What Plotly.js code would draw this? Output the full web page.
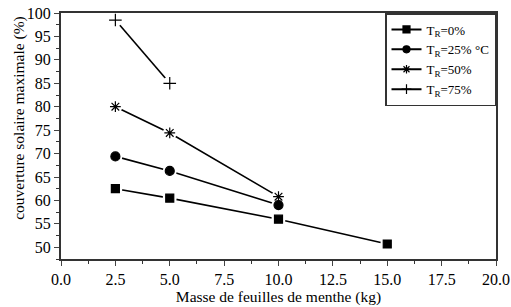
<!DOCTYPE html>
<html><head><meta charset="utf-8">
<script src="https://cdn.plot.ly/plotly-3.0.1.min.js"></script>
<style>html,body{margin:0;padding:0;background:#fff}#chart{width:511px;height:307px}</style>
</head><body><div id="chart"></div>
<script>
const seriesNames = ['T<sub>R</sub>=0%', 'T<sub>R</sub>=25% °C', 'T<sub>R</sub>=50%', 'T<sub>R</sub>=75%'];
const x0 = [2.5, 5, 10, 15];
const y0 = [62.5, 60.5, 56.0, 50.7];
const x25 = [2.5, 5, 10];
const y25 = [69.4, 66.3, 59.0];
const x50 = [2.5, 5, 10];
const y50 = [80.0, 74.4, 60.8];
const x75 = [2.5, 5];
const y75 = [98.5, 85.0];
const xTicks = [0, 2.5, 5, 7.5, 10, 12.5, 15, 17.5, 20];
const xTickText = ['0.0','2.5','5.0','7.5','10.0','12.5','15.0','17.5','20.0'];
const yTicks = [50,55,60,65,70,75,80,85,90,95,100];
const xTitle = 'Masse de feuilles de menthe (kg)';
const yTitle = 'couverture solaire maximale (%)';

const xs = [x0, x25, x50, x75];
const ys = [y0, y25, y50, y75];
const symbols = ['square', 'circle', 'asterisk-open', 'cross-thin-open'];
const sizes = [8, 9, 9, 9];
const traces = [];
for (let i = 0; i < 4; i++) {
  traces.push({x: xs[i], y: ys[i], mode: 'lines', line: {color: '#000', width: 1.6}, showlegend: false, hoverinfo: 'skip'});
  traces.push({x: xs[i], y: ys[i], mode: 'markers', marker: {symbol: 'circle', size: 14, color: '#fff'}, showlegend: false, hoverinfo: 'skip'});
}
for (let i = 0; i < 4; i++) {
  traces.push({x: xs[i], y: ys[i], mode: 'markers', showlegend: false,
    marker: {symbol: symbols[i], size: sizes[i], color: '#000', line: {color: '#000', width: 1.2}}});
}
for (let i = 0; i < 4; i++) {
  traces.push({x: [null], y: [null], name: seriesNames[i], mode: 'lines+markers',
    line: {color: '#000', width: 2},
    marker: {symbol: symbols[i], size: 7, color: '#000', line: {color: '#000', width: 1.2}}});
}
const FONT = 'Liberation Serif';
const layout = {
  width: 511, height: 307,
  margin: {l: 61, r: 15, t: 13, b: 48},
  paper_bgcolor: '#fff', plot_bgcolor: '#fff',
  font: {family: FONT, size: 16, color: '#000'},
  showlegend: true,
  legend: {x: 1, y: 1, xanchor: 'right', yanchor: 'top', bordercolor: '#333', borderwidth: 1.5,
    bgcolor: '#fff', font: {family: FONT, size: 13}, tracegroupgap: 0, itemwidth: 30},
  xaxis: {range: [0, 20], tickvals: xTicks, ticktext: xTickText, ticks: 'outside', ticklen: 5, tickwidth: 1,
    showline: true, linecolor: '#333', linewidth: 2, mirror: true, showgrid: false, zeroline: false,
    tickfont: {family: FONT, size: 16, color: '#000'},
    minor: {dtick: 1.25, ticks: 'outside', ticklen: 3, tickcolor: '#333'},
    title: {text: xTitle, font: {family: FONT, size: 15.5}, standoff: 3}},
  yaxis: {range: [47.5, 100], tickvals: yTicks, ticks: 'outside', ticklen: 5, tickwidth: 1,
    showline: true, linecolor: '#333', linewidth: 2, mirror: true, showgrid: false, zeroline: false,
    tickfont: {family: FONT, size: 16, color: '#000'},
    minor: {dtick: 2.5, ticks: 'outside', ticklen: 3, tickcolor: '#333'}},
  annotations: [{text: yTitle, textangle: -90, xref: 'paper', yref: 'paper', x: -0.097, y: 0.573,
    xanchor: 'center', yanchor: 'middle', showarrow: false, font: {family: FONT, size: 15.5}}]
};
Plotly.newPlot('chart', traces, layout, {displayModeBar: false, staticPlot: true});
</script></body></html>
